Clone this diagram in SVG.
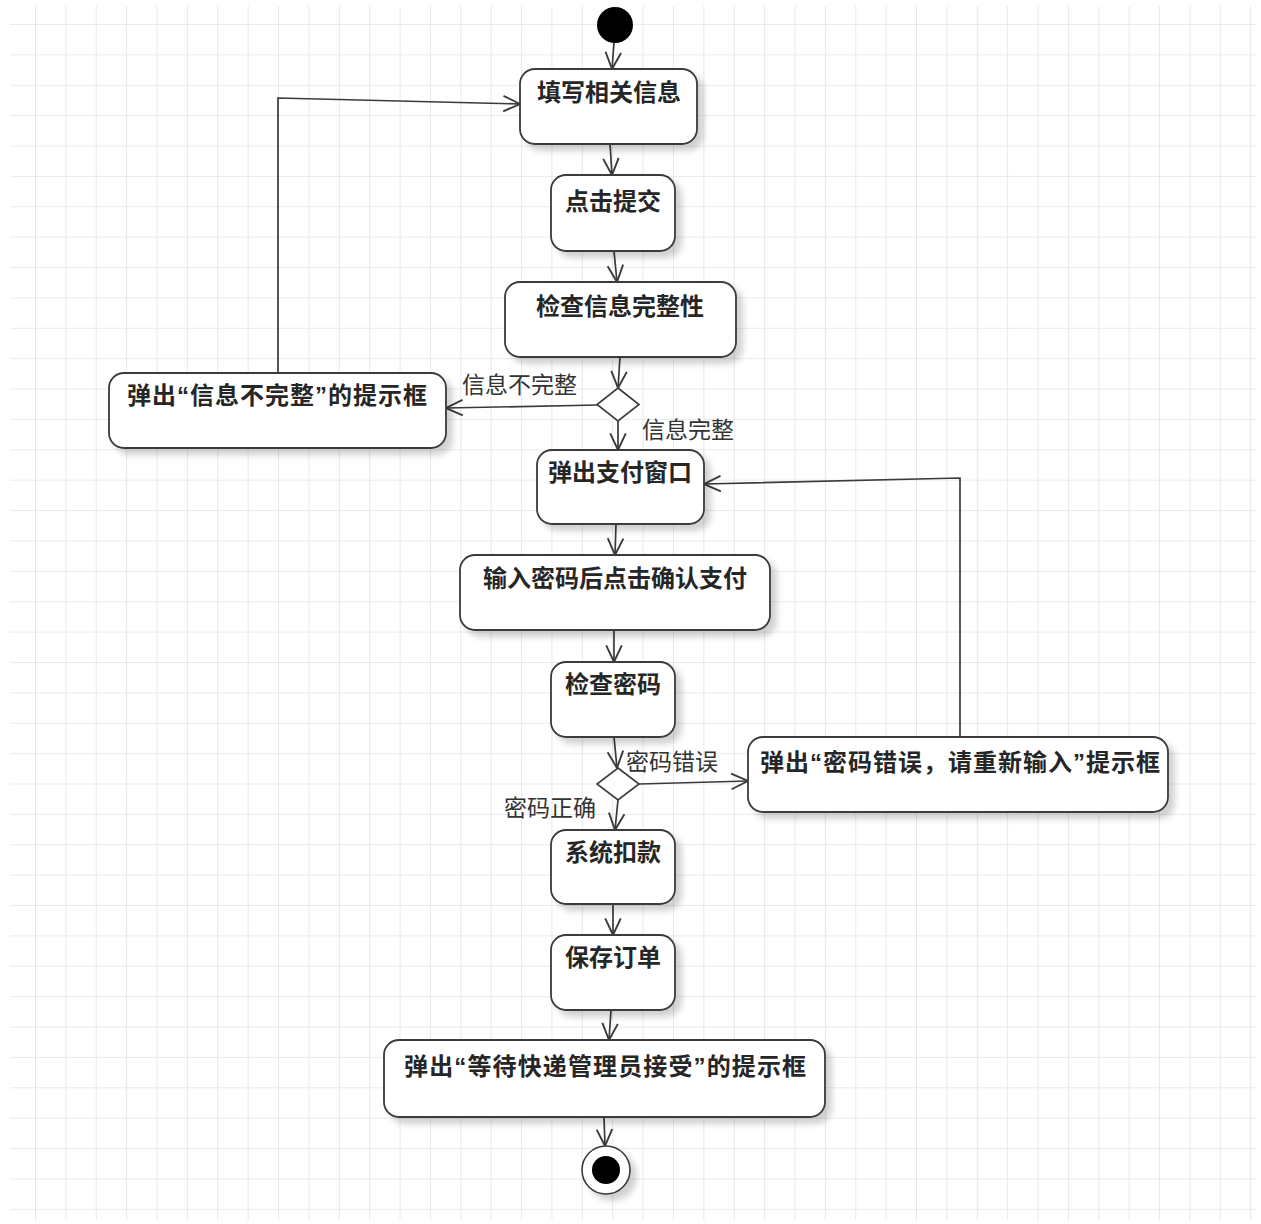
<svg xmlns="http://www.w3.org/2000/svg" width="1261" height="1224" viewBox="0 0 1261 1224">
<style>
.node rect{fill:#fff;stroke:#3a3a3a;stroke-width:1.8;filter:url(#sh)}
.node text{font-family:"Noto Sans CJK SC","Noto Sans",sans-serif;font-weight:bold;font-size:24px;fill:#262626;text-anchor:middle}
.q{font-family:"Liberation Sans",sans-serif}
.lbl{font-family:"Noto Sans CJK SC","Noto Sans",sans-serif;font-size:23px;fill:#333}
.conn path{fill:none;stroke:#3a3a3a;stroke-width:1.7;marker-end:url(#ah)}
</style>
<defs>
<pattern id="grid" patternUnits="userSpaceOnUse" x="35" y="24" width="30.38" height="30.38">
<path d="M0,0 V30.38 M0,0 H30.38" fill="none" stroke="#e3e3e3" stroke-width="1.6"/>
</pattern>
<filter id="sh" x="-10%" y="-10%" width="130%" height="140%">
<feDropShadow dx="6" dy="6" stdDeviation="3" flood-color="#000" flood-opacity="0.18"/>
</filter>
<marker id="ah" markerUnits="userSpaceOnUse" markerWidth="20" markerHeight="20" refX="16" refY="8" orient="auto" viewBox="0 0 18 16">
<path d="M1,1 L16,8 L1,15" fill="none" stroke="#3a3a3a" stroke-width="1.7"/>
</marker>
</defs>
<rect width="1261" height="1224" fill="#fff"/>
<rect x="10" y="6" width="1246" height="1214" fill="url(#grid)"/>

<g id="connectors" class="conn">
<path d="M614,43 L612,69"/>
<path d="M610,144 L612,175"/>
<path d="M614,251 L617,282"/>
<path d="M620,357 L618,388"/>
<path d="M598,405 L446,408"/>
<path d="M278,373 L278,98 L520,104"/>
<path d="M618,421 L618,450"/>
<path d="M616,524 L615,555"/>
<path d="M614,630 L614,662"/>
<path d="M614,737 L617,768"/>
<path d="M639,784 L748,781"/>
<path d="M960,737 L960,478 L704,484"/>
<path d="M618,800 L615,830"/>
<path d="M613,904 L613,935"/>
<path d="M611,1010 L609,1040"/>
<path d="M604,1117 L605,1146"/>
</g>

<g id="labels">
<text class="lbl" x="462" y="393">信息不完整</text>
<text class="lbl" x="642" y="438">信息完整</text>
<text class="lbl" x="626" y="770">密码错误</text>
<text class="lbl" x="504" y="816">密码正确</text>
</g>

<g id="start"><circle cx="615" cy="25" r="18" fill="#000"/></g>

<g id="n1" class="node"><rect x="520" y="69" width="177" height="75" rx="15"/><text x="609" y="101">填写相关信息</text></g>
<g id="n2" class="node"><rect x="551" y="175" width="124" height="76" rx="15"/><text x="613" y="210">点击提交</text></g>
<g id="n3" class="node"><rect x="505" y="282" width="231" height="75" rx="15"/><text x="620" y="315">检查信息完整性</text></g>
<g id="d1"><path d="M618,388 L639,404.5 L618,421 L597,404.5 Z" fill="#fff" stroke="#3a3a3a" stroke-width="1.6"/></g>
<g id="n4" class="node"><rect x="109" y="373" width="337" height="75" rx="15"/><text x="277" y="404" textLength="300" lengthAdjust="spacing">弹出<tspan class="q">“</tspan>信息不完整<tspan class="q">”</tspan>的提示框</text></g>
<g id="n5" class="node"><rect x="537" y="450" width="167" height="74" rx="15"/><text x="620" y="481">弹出支付窗口</text></g>
<g id="n6" class="node"><rect x="460" y="555" width="310" height="75" rx="15"/><text x="615" y="587">输入密码后点击确认支付</text></g>
<g id="n7" class="node"><rect x="551" y="662" width="124" height="75" rx="15"/><text x="613" y="693">检查密码</text></g>
<g id="d2"><path d="M618,768 L639,784 L618,800 L597,784 Z" fill="#fff" stroke="#3a3a3a" stroke-width="1.6"/></g>
<g id="n8" class="node"><rect x="748" y="737" width="420" height="75" rx="15"/><text x="960" y="771" textLength="400" lengthAdjust="spacing">弹出<tspan class="q">“</tspan>密码错误，请重新输入<tspan class="q">”</tspan>提示框</text></g>
<g id="n9" class="node"><rect x="551" y="830" width="124" height="74" rx="15"/><text x="613" y="861">系统扣款</text></g>
<g id="n10" class="node"><rect x="551" y="935" width="124" height="75" rx="15"/><text x="613" y="966">保存订单</text></g>
<g id="n11" class="node"><rect x="384" y="1040" width="441" height="77" rx="15"/><text x="605" y="1075" textLength="402" lengthAdjust="spacing">弹出<tspan class="q">“</tspan>等待快递管理员接受<tspan class="q">”</tspan>的提示框</text></g>

<g id="end"><circle cx="606" cy="1170" r="24" fill="#fff" stroke="#3a3a3a" stroke-width="1.6" filter="url(#sh)"/><circle cx="606" cy="1170" r="14" fill="#000"/></g>
</svg>
